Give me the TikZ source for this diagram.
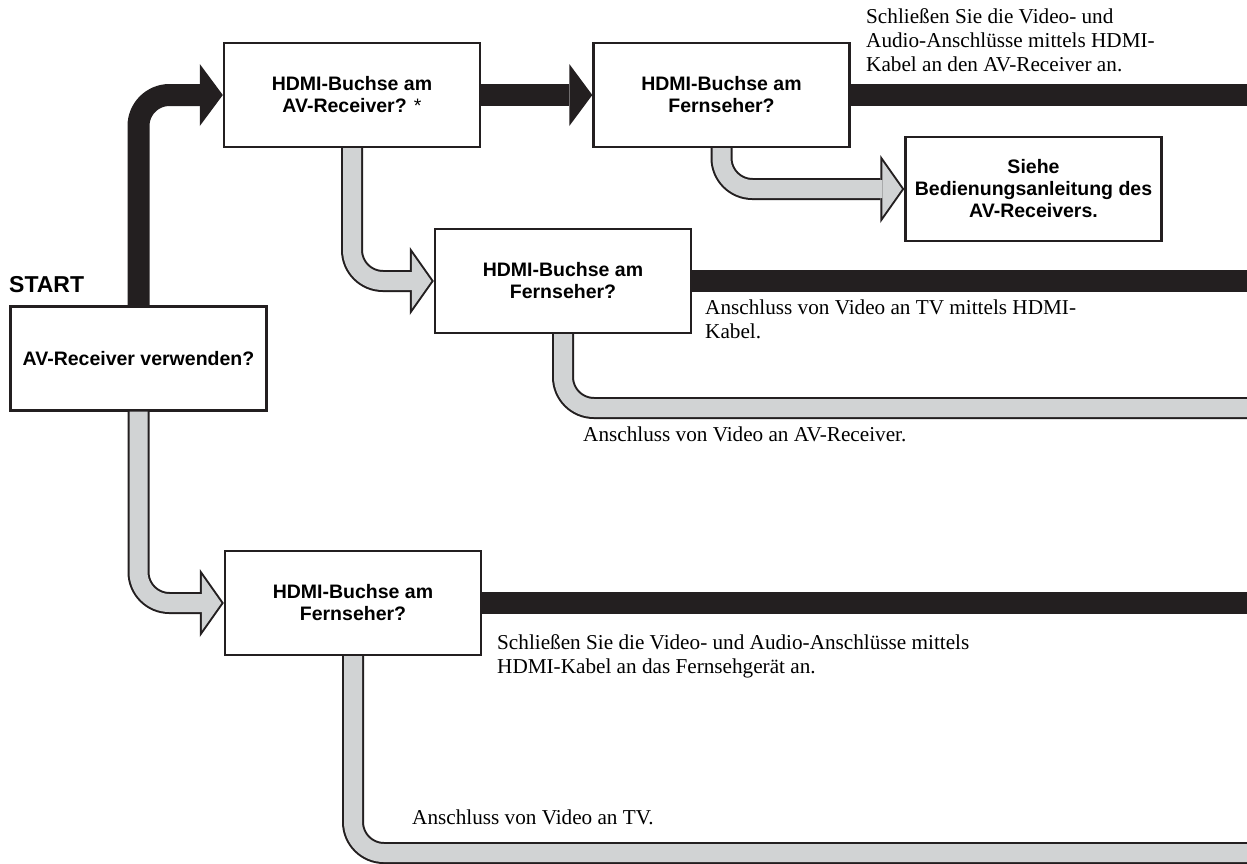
\documentclass[tikz,border=0pt]{standalone}
\usepackage{fontspec}
\setmainfont{Liberation Serif}
\setsansfont{Liberation Sans}
\usetikzlibrary{arrows.meta}

\definecolor{ink}{HTML}{231F20}
\definecolor{pale}{HTML}{D1D3D4}

% grey "no" arrow: dark rim first, pale core on top
\newcommand{\noarrow}[1]{\draw[noedge] #1; \draw[nofill] #1;}
\newcommand{\nobar}[1]{\draw[noedgebar] #1; \draw[nofillbar] #1;}

\begin{document}
\begin{tikzpicture}[
        x=1pt, y=-1pt,
        box/.style={rectangle, draw=ink, line width=2.4pt, fill=white,
                    minimum width=256pt, minimum height=104pt, align=center,
                    font=\fontsize{19.5}{22}\selectfont\sffamily\bfseries},
        note/.style={anchor=north west, inner sep=0pt, align=left,
                     font=\fontsize{21.2}{24}\selectfont},
        yesline/.style={ink, line width=22pt, rounded corners=31pt},
        yesarrow/.style={yesline, -{Triangle[length=23pt, width=62pt, line width=0pt]}},
        noedgebar/.style={ink, line width=22pt, rounded corners=31pt},
        nofillbar/.style={pale, line width=18pt, rounded corners=31pt},
        noedge/.style={noedgebar, -{Triangle[length=24pt, width=68pt, line width=0pt]}},
        nofill/.style={nofillbar, shorten >=2.45pt, -{Triangle[length=19.55pt, width=55.4pt, line width=0pt]}},
    ]
    \clip (0,0) rectangle (1247,863);
    \useasboundingbox (0,0) rectangle (1247,863);

    % questions
    \node[box] (use)    at (138.5, 358.5) {AV-Receiver verwenden?};
    \node[box] (avr)    at (352, 95)      {HDMI-Buchse am\\AV-Receiver? \textmd{*}};
    \node[box] (tv1)    at (721.5, 95)    {HDMI-Buchse am\\Fernseher?};
    \node[box] (manual) at (1033.5, 189)  {Siehe\\Bedienungsanleitung des\\AV-Receivers.};
    \node[box] (tv2)    at (563, 281)     {HDMI-Buchse am\\Fernseher?};
    \node[box] (tv3)    at (353, 603)     {HDMI-Buchse am\\Fernseher?};
    \node[anchor=base west, inner sep=0pt,
          font=\fontsize{23}{26}\selectfont\sffamily\bfseries] (start) at (9, 292) {START};

    % loose ends beyond the right and bottom edge
    \coordinate (e1) at (1262, 95);
    \coordinate (e2) at (1262, 281);
    \coordinate (e3) at (1262, 408);
    \coordinate (e4) at (1262, 603);
    \coordinate (e5) at (1262, 853);

    % yes
    \draw[yesarrow] (use.north) |- (avr.west);
    \draw[yesarrow] (avr.east) -- (tv1.west);
    \draw[yesline] (tv1.east) -- (e1);
    \draw[yesline] (tv2.east) -- (e2);
    \draw[yesline] (tv3.east) -- (e4);

    % no
    \noarrow{(tv1.south) |- (manual.west)}
    \noarrow{(avr.south) |- (tv2.west)}
    \noarrow{(use.south) |- (tv3.west)}
    \nobar{(tv2.south) |- (e3)}
    \nobar{(tv3.south) |- (e5)}

    % connection notes
    \node[note] (n1) at (866, 8)   {Schließen Sie die Video- und\\Audio-Anschlüsse mittels HDMI-\\Kabel an den AV-Receiver an.};
    \node[note] (n2) at (705, 300) {Anschluss von Video an TV mittels HDMI-\\Kabel.};
    \node[note] (n3) at (583, 427) {Anschluss von Video an AV-Receiver.};
    \node[note] (n4) at (497, 634) {Schließen Sie die Video- und Audio-Anschlüsse mittels\\HDMI-Kabel an das Fernsehgerät an.};
    \node[note] (n5) at (412, 810) {Anschluss von Video an TV.};
\end{tikzpicture}
\end{document}
